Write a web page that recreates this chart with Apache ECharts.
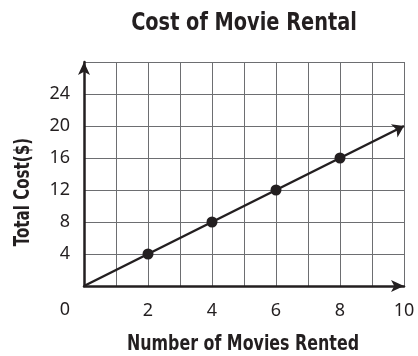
<!DOCTYPE html>
<html>
<head>
<meta charset="utf-8">
<script src="https://cdn.jsdelivr.net/npm/echarts@6/dist/echarts.min.js"></script>
<style>
  html, body { margin: 0; padding: 0; background: #fff; }
  #chart { width: 418px; height: 356px; }
</style>
</head>
<body>
<div id="chart"></div>
<script>
// Rental cost data: every movie costs $2
const moviesRented = [2, 4, 6, 8];
const totalCost = [4, 8, 12, 16];
// Line runs from the origin out to the arrow tip
const lineStart = [0, 0];
const lineEnd = [10, 20];
const xTickLabels = ['2', '4', '6', '8', '10'];
const yTickLabels = ['4', '8', '12', '16', '20', '24'];

const boldFont = '"DejaVu Sans Condensed", "DejaVu Sans", sans-serif';
const tickFont = '"Noto Sans", "Open Sans", sans-serif';
const ink = '#231f20';

const chart = echarts.init(document.getElementById('chart'), null, { renderer: 'canvas' });

const points = moviesRented.map((m, i) => [m, totalCost[i]]);

chart.setOption({
  animation: false,
  backgroundColor: '#fff',
  grid: { left: 84, right: 14, top: 62, bottom: 70 },
  xAxis: {
    type: 'value', min: 0, max: 10, interval: 1,
    axisLine: { show: true, onZero: false, symbol: ['none', 'arrow'], symbolSize: [9, 13],
      lineStyle: { color: ink, width: 2.5 } },
    axisTick: { show: false },
    axisLabel: {
      margin: 16, fontFamily: tickFont, fontSize: 18, color: ink,
      formatter: v => (xTickLabels.indexOf(String(v)) >= 0 ? String(v) : '')
    },
    splitLine: { show: true, lineStyle: { color: '#6d6e71', width: 1 } }
  },
  yAxis: {
    type: 'value', min: 0, max: 28, interval: 4,
    axisLine: { show: true, onZero: false, symbol: ['none', 'arrow'], symbolSize: [9, 13],
      lineStyle: { color: ink, width: 2.5 } },
    axisTick: { show: false },
    axisLabel: {
      margin: 14, fontFamily: tickFont, fontSize: 18, color: ink,
      formatter: v => (yTickLabels.indexOf(String(v)) >= 0 ? String(v) : '')
    },
    splitLine: { show: true, lineStyle: { color: '#6d6e71', width: 1 } }
  },
  series: [
    {
      type: 'lines',
      coordinateSystem: 'cartesian2d',
      symbol: ['none', 'arrow'],
      symbolSize: [0, 11],
      lineStyle: { color: ink, width: 2.5, opacity: 1 },
      data: [{ coords: [lineStart, lineEnd] }],
      z: 3
    },
    {
      type: 'scatter',
      symbol: 'circle',
      symbolSize: 11,
      itemStyle: { color: ink, opacity: 1 },
      data: points,
      z: 4
    }
  ]
});

// Title, axis names (condensed bold) and the origin label
const origin = chart.convertToPixel({ gridIndex: 0 }, [0, 0]);
chart.setOption({
  graphic: [
    {
      type: 'text', x: 244, y: 23, scaleX: 0.86,
      style: { text: 'Cost of Movie Rental', fontFamily: boldFont, fontWeight: 'bold',
        fontSize: 25, fill: ink, align: 'center', verticalAlign: 'middle' }
    },
    {
      type: 'text', x: 243, y: 345, scaleX: 0.84,
      style: { text: 'Number of Movies Rented', fontFamily: boldFont, fontWeight: 'bold',
        fontSize: 21, fill: ink, align: 'center', verticalAlign: 'middle' }
    },
    {
      type: 'text', x: 24, y: 192, rotation: Math.PI / 2, scaleX: 0.8,
      style: { text: 'Total Cost($)', fontFamily: boldFont, fontWeight: 'bold',
        fontSize: 21, fill: ink, align: 'center', verticalAlign: 'middle' }
    },
    {
      type: 'text', x: origin[0] - 19, y: origin[1] + 24,
      style: { text: '0', fontFamily: tickFont, fontSize: 18, fill: ink,
        align: 'center', verticalAlign: 'middle' }
    }
  ]
});
</script>
</body>
</html>
